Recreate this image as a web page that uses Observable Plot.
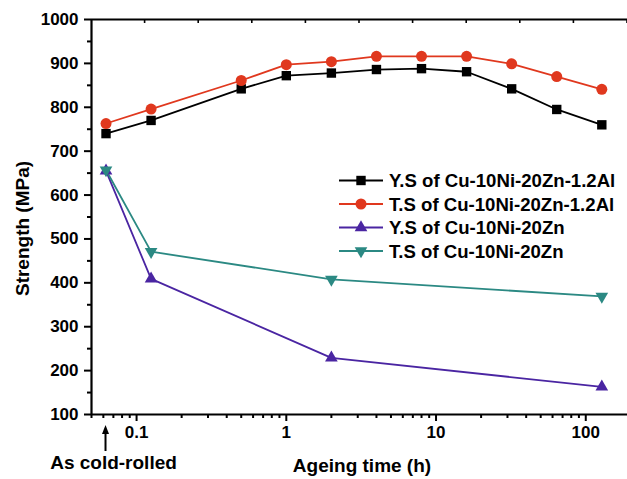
<!DOCTYPE html>
<html><head><meta charset="utf-8">
<script src="https://cdn.jsdelivr.net/npm/d3@7"></script>
<script src="https://cdn.jsdelivr.net/npm/@observablehq/plot@0.6"></script>
<style>
body{margin:0;background:#fff}
#chart{position:relative;width:627px;height:479px}
svg{overflow:visible}
</style>
</head><body><div id="chart"></div>
<script>
// ---- data ----
const timesAl = [0.0625, 0.125, 0.5, 1, 2, 4, 8, 16, 32, 64, 128];
const ysAl    = [740, 770, 842, 872, 878, 886, 888, 881, 842, 795, 760];
const tsAl    = [763, 796, 861, 897, 904, 916, 916, 916, 899, 870, 841];
const timesZn = [0.0625, 0.125, 2, 128];
const ysZn    = [655, 409, 229, 163];
const tsZn    = [657, 471, 408, 369];
const seriesNames = ["Y.S of Cu-10Ni-20Zn-1.2Al", "T.S of Cu-10Ni-20Zn-1.2Al", "Y.S of Cu-10Ni-20Zn", "T.S of Cu-10Ni-20Zn"];
const seriesColors = ["#000000", "#e0381e", "#4a25a2", "#2b8983"];
const xMajorTicks = [0.1, 1, 10, 100];
const xMinorTicks = [0.05,0.06,0.07,0.08,0.09,0.2,0.3,0.4,0.5,0.6,0.7,0.8,0.9,2,3,4,5,6,7,8,9,20,30,40,50,60,70,80,90];
const yMajorTicks = [100,200,300,400,500,600,700,800,900,1000];
const yMinorTicks = [150,250,350,450,550,650,750,850,950];
const xLabel = "Ageing time (h)";
const yLabel = "Strength (MPa)";
const coldLabel = "As cold-rolled";
const coldTime = 0.0625;

// ---- build table ----
const series = [
  {name: seriesNames[0], color: seriesColors[0], symbol: "square", r: 5.3, rotate: 0, data: timesAl.map((t,i)=>({t, v: ysAl[i]}))},
  {name: seriesNames[1], color: seriesColors[1], symbol: "circle", r: 5.5, rotate: 0, data: timesAl.map((t,i)=>({t, v: tsAl[i]}))},
  {name: seriesNames[2], color: seriesColors[2], symbol: "triangle", r: 4.7, rotate: 0, data: timesZn.map((t,i)=>({t, v: ysZn[i]}))},
  {name: seriesNames[3], color: seriesColors[3], symbol: "triangle", r: 4.7, rotate: 180, data: timesZn.map((t,i)=>({t, v: tsZn[i]}))}
];

const font = "'Liberation Sans', Arial, Helvetica, sans-serif";
const marks = [
  Plot.axisY(yMajorTicks, {tickSize: 7, tickPadding: 6, strokeWidth: 2, label: null, tickFormat: d => String(d), fontSize: 17, fontWeight: "bold"}),
  Plot.axisY(yMinorTicks, {tickSize: 4, strokeWidth: 2, label: null, tickFormat: () => ""}),
  Plot.axisX(xMajorTicks, {tickSize: 7, tickPadding: 4, strokeWidth: 2, label: null, tickFormat: d => String(d), fontSize: 17, fontWeight: "bold"}),
  Plot.axisX(xMinorTicks, {tickSize: 4, strokeWidth: 2, label: null, tickFormat: () => ""}),
  Plot.ruleY([yMajorTicks[0]], {strokeWidth: 2.2}),
  Plot.ruleY([yMajorTicks[yMajorTicks.length-1]], {strokeWidth: 2.2}),
  Plot.ruleX([xMinorTicks[0]], {strokeWidth: 2.2})
];
for (const s of series) {
  marks.push(Plot.line(s.data, {x: "t", y: "v", stroke: s.color, strokeWidth: 1.8}));
}
for (const s of series) {
  marks.push(Plot.dot(s.data, {x: "t", y: "v", symbol: s.symbol, r: s.r, fill: s.color, stroke: "none", rotate: s.rotate}));
}

const chart = Plot.plot({
  width: 627, height: 479,
  marginLeft: 91, marginRight: 0, marginTop: 19, marginBottom: 65,
  style: {fontFamily: font, fontWeight: "bold", fontSize: "16px", color: "#000", background: "#fff", overflow: "visible"},
  x: {type: "log", domain: [0.05, 190]},
  y: {domain: [100, 1000]},
  marks
});
document.getElementById("chart").appendChild(chart);

// ---- annotations ----
const svg = d3.select(chart);
const xs = chart.scale("x"), ys = chart.scale("y");
const [x0, x1] = xs.range;
const yTop = ys.apply(1000), yBot = ys.apply(100);

// top-frame ticks (inward)
const g0 = svg.append("g").attr("stroke", "#000").attr("stroke-width", 1.6);
for (let k = 1; k <= 10; k++) {
  const px = x0 + k * (x1 - x0) / 10;
  g0.append("line").attr("x1", px).attr("x2", px).attr("y1", yTop).attr("y2", yTop + 4);
}

// axis titles
svg.append("text").attr("transform", `translate(22,${(yTop+yBot)/2 + 12}) rotate(-90)`)
  .attr("text-anchor", "middle").attr("dominant-baseline", "central")
  .style("font", `bold 19px ${font}`).text(yLabel);
svg.append("text").attr("x", (x0+x1)/2 + 3).attr("y", 472)
  .attr("text-anchor", "middle").style("font", `bold 19px ${font}`).text(xLabel);

// cold-rolled arrow + label
const cx = xs.apply(coldTime);
svg.append("line").attr("x1", cx).attr("x2", cx).attr("y1", 451).attr("y2", 431)
  .attr("stroke", "#000").attr("stroke-width", 2);
svg.append("path").attr("d", `M${cx},${425}L${cx-3.5},${434}L${cx+3.5},${434}Z`).attr("fill", "#000");
svg.append("text").attr("x", cx + 8).attr("y", 469).attr("text-anchor", "middle")
  .style("font", `bold 19px ${font}`).text(coldLabel);

// legend
const lg = svg.append("g");
const rowY = [180.5, 204, 227.5, 251];
series.forEach((s, i) => {
  const y = rowY[i];
  lg.append("line").attr("x1", 339).attr("x2", 383).attr("y1", y).attr("y2", y)
    .attr("stroke", s.color).attr("stroke-width", 1.8);
  const type = s.symbol === "square" ? d3.symbolSquare : s.symbol === "circle" ? d3.symbolCircle : d3.symbolTriangle;
  lg.append("path").attr("d", d3.symbol(type, s.r * s.r * Math.PI)())
    .attr("transform", `translate(361,${y}) rotate(${s.rotate})`).attr("fill", s.color);
  lg.append("text").attr("x", 389).attr("y", y).attr("text-anchor", "start").attr("dominant-baseline", "central")
    .style("font", `bold 18.6px ${font}`).attr("fill", "#000").text(s.name);
});
</script>
</body></html>
